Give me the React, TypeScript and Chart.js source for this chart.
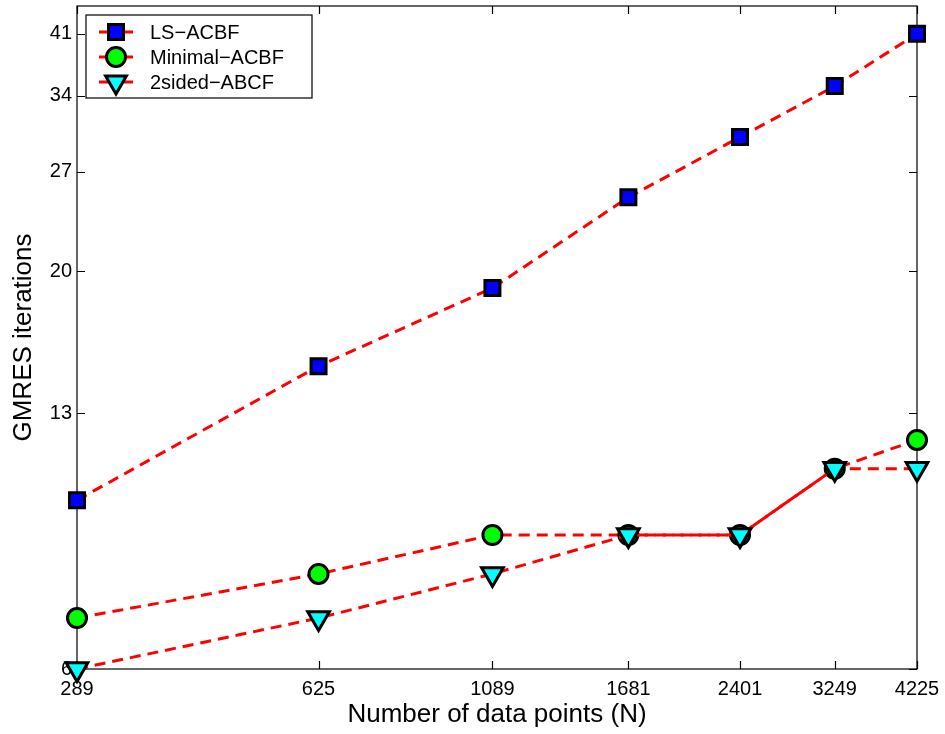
import React, { useEffect, useRef } from 'react';
import { Chart, registerables } from 'chart.js';

Chart.register(...registerables);

// ---- Data ----
const nValues = [289, 625, 1089, 1681, 2401, 3249, 4225];
const lsAcbf = [10, 15, 19, 25, 30, 35, 41];
const minimalAcbf = [7, 8, 9, 9, 9, 11, 12];
const twoSidedAbcf = [6, 7, 8, 9, 9, 11, 11];
const xTickValues = [289, 625, 1089, 1681, 2401, 3249, 4225];
const yTickValues = [6, 13, 20, 27, 34, 41];
const seriesLabels = ['LS\u2212ACBF', 'Minimal\u2212ACBF', '2sided\u2212ABCF'];
const xTitle = 'Number of data points (N)';
const yTitle = 'GMRES iterations';

const FONT = '"Liberation Sans", Arial, Helvetica, sans-serif';

const markerStyles = [
  { style: 'rect', radius: 10.6, fill: '#0000ff', rotation: 0 },
  { style: 'circle', radius: 9.5, fill: '#00ff00', rotation: 0 },
  { style: 'triangle', radius: 12.5, fill: '#00ffff', rotation: 180 },
];

function drawMarker(ctx: CanvasRenderingContext2D, kind: string, x: number, y: number, r: number, fill: string) {
  ctx.save();
  ctx.beginPath();
  if (kind === 'rect') {
    const s = r * Math.SQRT1_2;
    ctx.rect(x - s, y - s, 2 * s, 2 * s);
  } else if (kind === 'circle') {
    ctx.arc(x, y, r, 0, Math.PI * 2);
  } else {
    let a = Math.PI;
    ctx.moveTo(x + Math.sin(a) * r, y - Math.cos(a) * r);
    a += (2 * Math.PI) / 3;
    ctx.lineTo(x + Math.sin(a) * r, y - Math.cos(a) * r);
    a += (2 * Math.PI) / 3;
    ctx.lineTo(x + Math.sin(a) * r, y - Math.cos(a) * r);
    ctx.closePath();
  }
  ctx.fillStyle = fill;
  ctx.fill();
  ctx.lineWidth = 3;
  ctx.strokeStyle = '#000';
  ctx.stroke();
  ctx.restore();
}

const framePlugin = {
  id: 'matlabFrame',
  beforeDatasetsDraw(chart: any) {
    const { ctx, chartArea: a, scales } = chart;
    const tl = 8;
    ctx.save();
    ctx.strokeStyle = '#000';
    ctx.lineWidth = 1.2;
    ctx.strokeRect(a.left, a.top, a.right - a.left, a.bottom - a.top);
    ctx.beginPath();
    for (const v of xTickValues) {
      const px = Math.round(scales.x.getPixelForValue(v)) + 0.5;
      ctx.moveTo(px, a.bottom);
      ctx.lineTo(px, a.bottom - tl);
      ctx.moveTo(px, a.top);
      ctx.lineTo(px, a.top + tl);
    }
    for (const v of yTickValues) {
      const py = Math.round(scales.y.getPixelForValue(v)) + 0.5;
      ctx.moveTo(a.left, py);
      ctx.lineTo(a.left + tl, py);
      ctx.moveTo(a.right, py);
      ctx.lineTo(a.right - tl, py);
    }
    ctx.stroke();
    ctx.restore();
  },
  afterDraw(chart: any) {
    const { ctx, chartArea: a } = chart;
    const bx = a.left + 9;
    const by = a.top + 9;
    const bw = 226;
    const bh = 83;
    ctx.save();
    ctx.fillStyle = '#fff';
    ctx.fillRect(bx, by, bw, bh);
    ctx.strokeStyle = '#000';
    ctx.lineWidth = 1.2;
    ctx.strokeRect(bx, by, bw, bh);
    const datasets = chart.data.datasets;
    for (let i = 0; i < datasets.length; i++) {
      const y = by + 17 + i * 25;
      ctx.beginPath();
      ctx.strokeStyle = '#ff0000';
      ctx.lineWidth = 3;
      ctx.moveTo(bx + 13, y);
      ctx.lineTo(bx + 47, y);
      ctx.stroke();
      const m = markerStyles[i];
      drawMarker(ctx, m.style, bx + 30, y, m.style === 'triangle' ? 12 : m.radius, m.fill);
      ctx.fillStyle = '#000';
      ctx.font = `20px ${FONT}`;
      ctx.textAlign = 'left';
      ctx.textBaseline = 'middle';
      ctx.fillText(datasets[i].label, bx + 64, y + 1);
    }
    ctx.restore();
  },
};

function makeDataset(label: string, values: number[], idx: number, order: number) {
  const m = markerStyles[idx];
  return {
    label,
    data: nValues.map((n, i) => ({ x: n, y: values[i] })),
    borderColor: '#ff0000',
    borderWidth: 3,
    borderDash: [11, 7],
    fill: false,
    tension: 0,
    pointStyle: m.style,
    pointRadius: m.radius,
    pointHoverRadius: m.radius,
    pointRotation: m.rotation,
    pointBackgroundColor: m.fill,
    pointBorderColor: '#000',
    pointBorderWidth: 3,
    clip: false,
    order,
  };
}

export default function App() {
  const canvasRef = useRef<HTMLCanvasElement | null>(null);

  useEffect(() => {
    const canvas = canvasRef.current;
    if (!canvas) return;
    const chart = new Chart(canvas, {
      type: 'line',
      data: {
        datasets: [
          makeDataset(seriesLabels[0], lsAcbf, 0, 2),
          makeDataset(seriesLabels[1], minimalAcbf, 1, 1),
          makeDataset(seriesLabels[2], twoSidedAbcf, 2, 0),
        ] as any,
      },
      options: {
        responsive: false,
        animation: false,
        events: [],
        layout: { autoPadding: false, padding: { top: 6, right: 28, left: 0, bottom: 0 } },
        plugins: {
          legend: { display: false },
          tooltip: { enabled: false },
        },
        scales: {
          x: {
            type: 'logarithmic',
            min: 289,
            max: 4225,
            afterBuildTicks: (scale: any) => {
              scale.ticks = xTickValues.map((v) => ({ value: v }));
            },
            afterFit: (scale: any) => {
              scale.height = 65;
              scale.paddingLeft = 0;
              scale.paddingRight = 0;
            },
            grid: { display: false, drawTicks: false },
            border: { display: false },
            ticks: {
              autoSkip: false,
              maxRotation: 0,
              minRotation: 0,
              padding: 8,
              color: '#000',
              font: { family: FONT, size: 20 },
              callback: (v: any) => String(v),
            },
            title: {
              display: true,
              text: xTitle,
              color: '#000',
              font: { family: FONT, size: 26 },
              padding: { top: 0, bottom: 4 },
            },
          },
          y: {
            type: 'logarithmic',
            min: 6,
            max: 44.6,
            afterBuildTicks: (scale: any) => {
              scale.ticks = yTickValues.map((v) => ({ value: v }));
            },
            afterFit: (scale: any) => {
              scale.width = 77;
              scale.paddingTop = 0;
              scale.paddingBottom = 0;
            },
            grid: { display: false, drawTicks: false },
            border: { display: false },
            ticks: {
              autoSkip: false,
              padding: 5,
              color: '#000',
              font: { family: FONT, size: 20 },
              callback: (v: any) => String(v),
            },
            title: {
              display: true,
              text: yTitle,
              color: '#000',
              font: { family: FONT, size: 26 },
              padding: { top: 8, bottom: 0 },
            },
          },
        },
      } as any,
      plugins: [framePlugin],
    });
    return () => chart.destroy();
  }, []);

  return (
    <div style={{ position: 'absolute', left: 0, top: 0, width: 945, height: 734, background: '#fff' }}>
      <canvas ref={canvasRef} width={945} height={734} style={{ display: 'block' }} />
    </div>
  );
}
